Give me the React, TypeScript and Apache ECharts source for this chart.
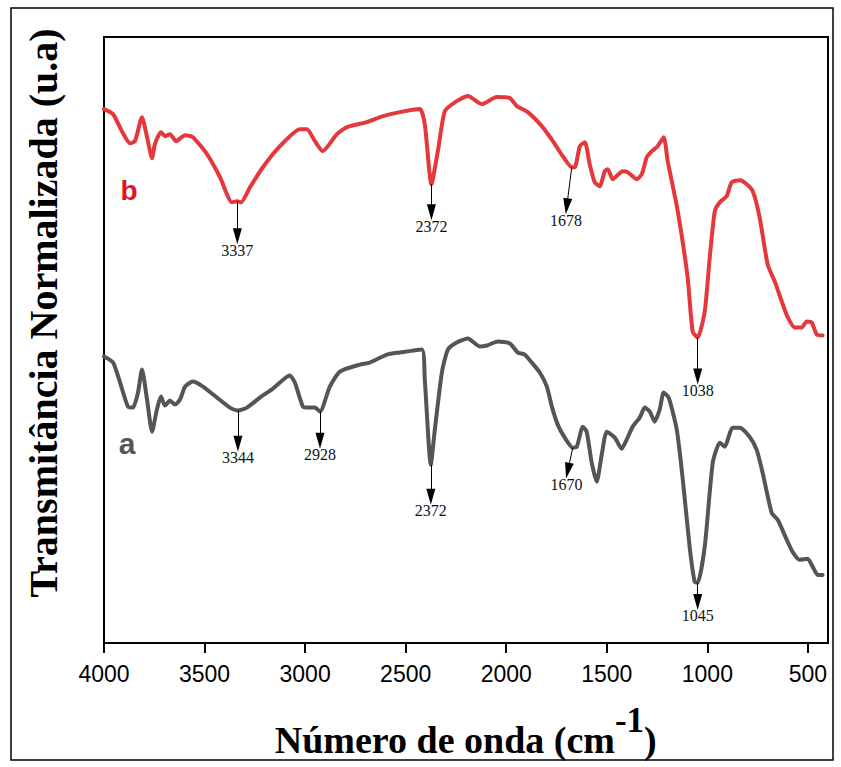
import React, { useEffect, useRef } from 'react';
import * as echarts from 'echarts';

// Curve b (red): wavenumber (cm-1) and normalized transmittance (a.u.)
const bWavenumber = [4000,3955,3911,3871,3846,3811,3786,3761,3747,3717,3697,3672,3642,3597,3558,3488,3423,3364,3337,3318,3274,3210,3125,3026,2991,2951,2912,2842,2792,2693,2613,2529,2430,2405,2372,2340,2305,2246,2191,2121,2047,1982,1947,1893,1823,1768,1719,1674,1659,1634,1609,1585,1560,1535,1510,1495,1470,1421,1396,1351,1326,1301,1276,1247,1217,1197,1147,1098,1073,1048,1013,988,963,938,904,879,839,804,774,740,700,665,630,600,566,531,506,481,456,427];
const bTransmittance = [533,528,511,499,501,525,505,484,498,510,506,508,501,507,505,488,465,440,441,440,455,475,496,513,513,501,491,508,515,520,526,530,533,518,458,491,531,541,546,538,545,544,536,530,516,501,486,475,475,496,500,478,460,456,471,473,463,471,470,463,468,485,491,496,505,481,431,365,311,305,331,385,431,440,446,460,462,458,451,425,378,361,341,325,315,315,321,320,308,307];

// Curve a (gray)
const aWavenumber = [4000,3955,3920,3881,3856,3831,3811,3786,3761,3737,3717,3697,3672,3647,3622,3597,3558,3508,3438,3374,3334,3289,3225,3160,3076,3051,3011,2986,2951,2926,2877,2827,2728,2678,2593,2529,2420,2405,2375,2355,2320,2290,2246,2191,2131,2096,2042,1982,1942,1908,1873,1833,1798,1773,1744,1709,1669,1649,1619,1600,1575,1550,1525,1500,1460,1426,1401,1371,1336,1311,1286,1262,1237,1217,1192,1152,1122,1088,1063,1048,1013,973,938,914,874,839,790,755,725,680,650,605,576,541,501,476,451,427];
const aTransmittance = [286,280,260,236,235,250,273,243,211,233,246,237,242,238,243,256,261,256,245,235,232,235,245,254,267,260,236,235,235,231,256,271,278,280,288,290,293,263,178,213,270,293,300,304,296,297,301,299,290,288,280,270,256,236,218,205,195,196,216,211,180,161,188,211,205,194,203,216,225,235,231,221,233,250,245,213,163,96,61,60,96,180,200,196,215,215,206,193,170,130,123,103,91,83,84,76,68,68];

const xTickValues = [4000, 3500, 3000, 2500, 2000, 1500, 1000, 500];

// Peak annotations: label, arrow start (on curve), arrow tip
const bPeakLabels = ['3337', '2372', '1678', '1038'];
const bArrowFrom = [[3337, 441], [2372, 458], [1674, 475], [1048, 305]];
const bArrowTo = [[3337, 406], [2372, 430], [1699, 436], [1048, 266]];

const aPeakLabels = ['3344', '2928', '2372', '1670', '1045'];
const aArrowFrom = [[3334, 232], [2926, 231], [2375, 178], [1669, 195], [1048, 60]];
const aArrowTo = [[3334, 199], [2926, 202], [2375, 146], [1694, 172], [1048, 41]];

const RED = '#e5383d';
const GRAY = '#555555';

function zip(xs: number[], ys: number[]) {
  return xs.map((x, i) => [x, ys[i]]);
}

function arrows(labels: string[], from: number[][], to: number[][]) {
  return {
    silent: true,
    symbol: ['none', 'triangle'],
    symbolSize: [9, 16],
    lineStyle: { color: '#000', width: 1, type: 'solid' },
    itemStyle: { color: '#000' },
    label: {
      show: true,
      position: 'end',
      distance: 6,
      formatter: (p: any) => p.name,
      fontFamily: '"Liberation Serif", serif',
      fontSize: 16,
      color: '#111',
    },
    emphasis: { disabled: true },
    data: labels.map((l, i) => [
      { coord: from[i], name: l },
      { coord: to[i] },
    ]),
  };
}

export default function App() {
  const ref = useRef<HTMLDivElement>(null);
  useEffect(() => {
    if (!ref.current) return;
    const chart = echarts.init(ref.current, undefined, { renderer: 'svg' });
    chart.setOption({
      animation: false,
      backgroundColor: '#fff',
      grid: {
        left: 104,
        right: 13,
        top: 37,
        bottom: 124,
        show: true,
        borderColor: '#000',
        borderWidth: 2,
        backgroundColor: 'transparent',
      },
      xAxis: {
        type: 'value',
        min: 400,
        max: 4000,
        inverse: true,
        axisLine: { show: true, onZero: false, lineStyle: { color: '#000', width: 2 } },
        axisTick: { show: true, customValues: xTickValues, length: 10, lineStyle: { color: '#000', width: 2 } },
        axisLabel: {
          customValues: xTickValues,
          formatter: (v: number) => String(v),
          fontSize: 23,
          fontFamily: '"Liberation Sans", Arial, sans-serif',
          color: '#000',
          margin: 19,
        },
        splitLine: { show: false },
      },
      yAxis: {
        type: 'value',
        min: 0,
        max: 605,
        show: false,
      },
      series: [
        {
          type: 'line',
          name: 'b',
          data: zip(bWavenumber, bTransmittance),
          showSymbol: false,
          smooth: 0.2,
          lineStyle: { color: RED, width: 4, join: 'round', cap: 'round' },
          itemStyle: { color: RED },
          markLine: arrows(bPeakLabels, bArrowFrom, bArrowTo),
        },
        {
          type: 'line',
          name: 'a',
          data: zip(aWavenumber, aTransmittance),
          showSymbol: false,
          smooth: 0.2,
          lineStyle: { color: GRAY, width: 4, join: 'round', cap: 'round' },
          itemStyle: { color: GRAY },
          markLine: arrows(aPeakLabels, aArrowFrom, aArrowTo),
        },
      ],
      graphic: [
        {
          type: 'rect',
          shape: { x: 11, y: 8, width: 822, height: 752 },
          style: { fill: 'none', stroke: '#000', lineWidth: 1.5 },
          silent: true,
        },
        {
          type: 'text',
          x: 43,
          y: 313,
          rotation: Math.PI / 2,
          style: {
            text: 'Transmitância Normalizada (u.a)',
            font: 'bold 40px "Liberation Serif", serif',
            fill: '#000',
            align: 'center',
            verticalAlign: 'middle',
          },
          silent: true,
        },
        {
          type: 'text',
          x: 466,
          y: 731,
          style: {
            text: '{m|Número de onda (cm}{s|-1}{m|)}{sp| }',
            fill: '#000',
            align: 'center',
            verticalAlign: 'middle',
            rich: {
              m: { font: 'bold 38px "Liberation Serif", serif', lineHeight: 38, verticalAlign: 'bottom' },
              s: { font: 'bold 35px "Liberation Serif", serif', lineHeight: 35, verticalAlign: 'top' },
              sp: { fontSize: 2, lineHeight: 56 },
            },
          },
          silent: true,
        },
        {
          type: 'text',
          x: 129,
          y: 190,
          style: {
            text: 'b',
            font: 'bold 28px "Liberation Sans", Arial, sans-serif',
            fill: '#e0161c',
            align: 'center',
            verticalAlign: 'middle',
          },
          silent: true,
        },
        {
          type: 'text',
          x: 127,
          y: 443,
          style: {
            text: 'a',
            font: 'bold 30px "Liberation Sans", Arial, sans-serif',
            fill: GRAY,
            align: 'center',
            verticalAlign: 'middle',
          },
          silent: true,
        },
      ],
    });
    return () => chart.dispose();
  }, []);
  return (
    <div
      ref={ref}
      style={{ position: 'fixed', left: 0, top: 0, width: 841, height: 767, background: '#fff' }}
    />
  );
}
